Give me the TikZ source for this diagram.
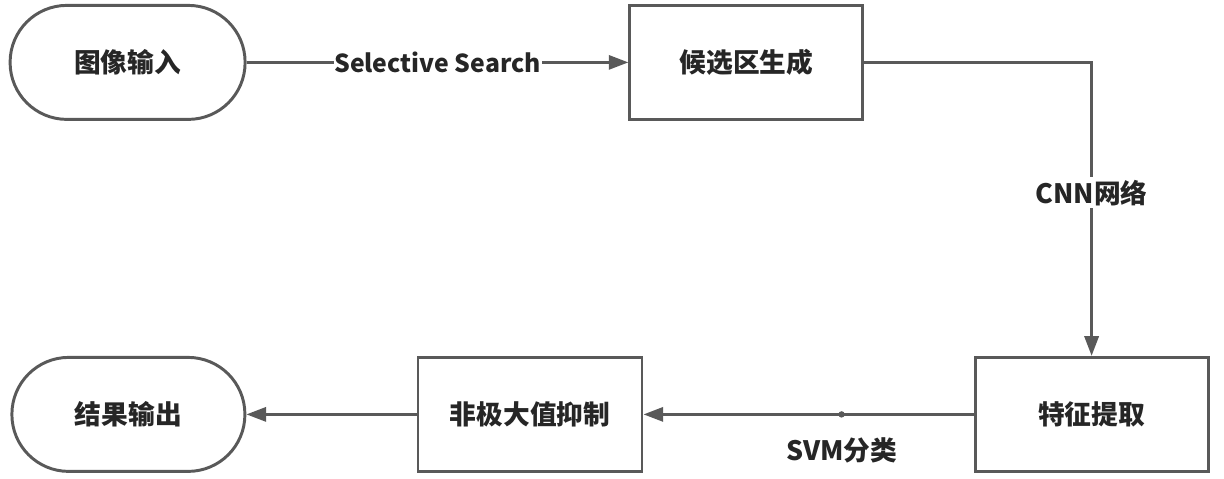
\documentclass[tikz,border=0pt]{standalone}
\usepackage{fontspec}
\newfontfamily\cjk{Noto Sans CJK SC}
\usetikzlibrary{arrows.meta,positioning}
\definecolor{linegray}{HTML}{595959}
\definecolor{textgray}{HTML}{262626}
\tikzset{
  stepbox/.style={draw=linegray, line width=2.1pt, rectangle, minimum width=5.8cm, minimum height=2.85cm,
    font=\cjk\bfseries\fontsize{19}{22}\selectfont, text=textgray},
  termbox/.style={stepbox, rounded corners=1.42cm},
  flow/.style={draw=linegray, line width=2.1pt, -{Triangle[length=14pt,width=10pt]}},
  lbl/.style={fill=white, inner sep=2pt, font=\cjk\bfseries\fontsize{19}{22}\selectfont, text=textgray}
}
\begin{document}
\begin{tikzpicture}
        \useasboundingbox (0,0) rectangle (30.6,11.95);

        % Riga superiore
        \node[termbox, minimum width=5.875cm] (img) at (3.19,10.39) {图像输入};
        \node[stepbox, minimum width=5.825cm] (cand) at (18.66,10.39) {候选区生成};

        % Riga inferiore
        \node[stepbox, minimum width=5.825cm] (feat) at (27.29,1.59) {特征提取};
        \node[stepbox, minimum width=5.6cm] (nms) at (13.25,1.59) {非极大值抑制};
        \node[termbox, minimum width=5.825cm] (res) at (3.21,1.59) {结果输出};

        % Collegamenti
        \draw[flow] (img.east) -- node[lbl, inner sep=0.5pt, font=\cjk\bfseries\fontsize{17.6}{20}\selectfont] {Selective Search} (cand.west);
        \draw[flow] (cand.east) -| node[lbl, pos=0.722] {CNN网络} (feat.north);
        \draw[flow] (feat.west) -- coordinate[pos=0.4] (svm) (nms.east);
        \fill[linegray] (svm) circle (0.08cm);
        \node[lbl, below=0.5cm of svm] (svmlbl) {SVM分类};
        \draw[flow] (nms.west) -- (res.east);
    \end{tikzpicture}
\end{document}
